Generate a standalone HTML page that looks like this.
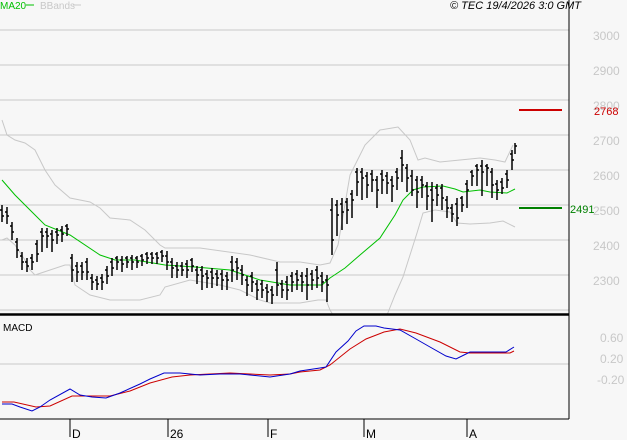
<!DOCTYPE html>
<html><head><meta charset="utf-8"><style>
html,body{margin:0;padding:0;background:#f7f7f7;}
svg{display:block;font-family:"Liberation Sans",sans-serif;}
</style></head><body>
<svg width="627" height="440" viewBox="0 0 627 440">
<rect width="627" height="440" fill="#f7f7f7"/>
<g stroke="#c8c8c8" stroke-width="1">
<path d="M0 30H569M0 65H569M0 100H569M0 135H569M0 170H569M0 205H569M0 240H569M0 275H569M0 310H569M0 364H569"/>
</g>
<g font-size="12" fill="#c8c8c8">
<text x="593" y="40">3000</text><text x="593" y="75">2900</text><text x="593" y="110">2800</text>
<text x="593" y="145">2700</text><text x="593" y="180">2600</text><text x="593" y="215">2500</text>
<text x="593" y="250">2400</text><text x="593" y="285">2300</text>
<text x="600" y="342">0.60</text><text x="600" y="363">0.20</text><text x="597" y="384">-0.20</text>
</g>
<!-- bollinger -->
<polyline fill="none" stroke="#c8c8c8" stroke-width="1" points="2,120 7,135 15,140 25,143 35,150 45,170 55,185 70,198 90,202 100,208 110,218 130,220 145,230 160,245 165,248 200,248 250,255 280,262 300,262 320,265 330,263 338,245 350,175 365,145 380,130 398,127 410,140 418,160 425,158 440,162 460,160 480,158 495,160 505,162 513,145"/>
<polyline fill="none" stroke="#c8c8c8" stroke-width="1" points="2,240 7,238 15,245 25,260 30,270 35,275 50,270 65,265 70,265 75,285 90,295 110,300 140,300 160,295 165,287 190,280 220,285 240,290 260,300 270,303 300,303 318,300 326,300 330,310 333,315"/>
<polyline fill="none" stroke="#c8c8c8" stroke-width="1" points="387,315 395,295 403,277 410,255 417,233 423,213 435,210 450,212 457,223 470,224 490,223 503,221 515,227"/>
<polyline fill="none" stroke="#00c000" stroke-width="1" points="2,180 15,195 30,210 45,225 70,235 100,255 115,260 135,260 165,265 195,267 230,270 260,280 290,285 322,285 330,278 345,268 360,255 380,238 395,215 403,200 413,190 423,187 443,186 455,189 463,192 480,190 490,192 507,193 515,189"/>
<!-- bars -->
<path fill="none" stroke="#000" stroke-width="1.5" d="
M2 205V222M0 210H2M2 216H4 M7 207V224M5 212H7M7 216H9 M12 222V240M10 226H12M12 232H14
M17 238V258M15 242H17M17 250H19 M22 252V270M20 256H22M22 262H24 M27 258V272M25 262H27M27 266H29
M32 254V270M30 258H32M32 262H34 M37 240V262M35 244H37M37 254H39 M42 228V252M40 232H42M42 236H44
M47 228V248M45 232H47M47 236H49 M52 230V252M50 234H52M52 240H54 M57 228V244M55 232H57M57 235H59
M62 226V242M60 230H62M62 234H64 M67 224V236M65 226H67M67 229H69
M72 254V282M70 258H72M72 270H74 M77 262V282M75 266H77M77 272H79 M82 262V280M80 266H82M82 272H84
M87 258V280M85 262H87M87 272H89 M92 274V290M90 278H92M92 282H94 M97 276V290M95 280H97M97 284H99
M102 274V290M100 278H102M102 282H104 M107 266V284M105 270H107M107 276H109 M112 258V276M110 262H112M112 268H114
M117 256V270M115 258H117M117 262H119 M122 256V272M120 260H122M122 264H124 M127 256V268M125 258H127M127 262H129
M132 255V270M130 258H132M132 262H134 M137 256V268M135 258H137M137 262H139 M142 254V266M140 256H142M142 260H144
M147 252V264M145 254H147M147 258H149 M152 252V264M150 254H152M152 258H154 M157 252V264M155 254H157M157 258H159
M162 250V262M160 252H162M162 256H164 M167 251V270M165 256H167M167 262H169
M172 258V278M170 262H172M172 268H174 M177 262V278M175 266H177M177 270H179 M182 262V276M180 266H182M182 270H184
M187 260V278M185 264H187M187 270H189 M192 258V272M190 260H192M192 266H194 M197 266V284M195 270H197M197 275H199
M202 266V290M200 270H202M202 276H204 M207 270V288M205 274H207M207 278H209 M212 268V288M210 272H212M212 278H214
M217 270V286M215 274H217M217 278H219 M222 270V290M220 274H222M222 280H224 M227 272V290M225 276H227M227 280H229
M232 256V282M230 262H232M232 270H234 M237 258V280M235 262H237M237 268H239 M242 265V285M240 270H242M242 275H244
M247 276V296M245 280H247M247 285H249 M252 272V292M250 276H252M252 282H254 M257 280V300M255 284H257M257 290H259
M262 280V298M260 284H262M262 290H264 M267 284V302M265 288H267M267 292H269 M272 286V304M270 290H272M272 295H274
M277 262V296M275 270H277M277 285H279 M282 280V298M280 284H282M282 290H284 M287 276V300M285 282H287M287 290H289
M292 272V292M290 276H292M292 282H294 M297 270V290M295 274H297M297 280H299 M302 272V292M300 276H302M302 282H304
M307 268V300M305 276H307M307 285H309 M312 270V290M310 274H312M312 280H314 M317 266V288M315 270H317M317 278H319
M322 272V292M320 276H322M322 282H324 M327 275V302M325 280H327M327 285H329
M332 198V255M330 210H332M332 240H334 M337 200V236M335 205H337M337 215H339 M342 198V230M340 204H342M342 212H344
M347 198V224M345 202H347M347 210H349 M352 190V218M350 194H352M352 200H354 M357 168V196M355 172H357M357 182H359
M362 168V200M360 172H362M362 178H364 M367 172V198M365 176H367M367 185H369 M372 170V192M370 174H372M372 180H374
M377 176V208M375 180H377M377 190H379 M382 170V194M380 174H382M382 180H384 M387 172V194M385 176H387M387 183H389
M392 176V202M390 180H392M392 186H394 M397 168V190M395 172H397M397 178H399 M402 150V182M400 158H402M402 165H404
M407 164V192M405 168H407M407 178H409 M412 170V196M410 176H412M412 190H414 M417 176V208M415 180H417M417 192H419
M422 176V198M420 180H422M422 185H424 M427 182V210M425 186H427M427 196H429 M432 182V222M430 190H432M432 200H434
M437 184V206M435 188H437M437 195H439 M442 184V210M440 188H442M442 198H444 M447 196V218M445 200H447M447 208H449
M452 204V222M450 208H452M452 214H454 M457 198V226M455 204H457M457 218H459 M462 196V212M460 198H462M462 205H464
M467 180V208M465 184H467M467 190H469 M472 170V186M470 172H472M472 176H474 M477 164V186M475 166H477M477 170H479
M482 160V196M480 166H482M482 172H484 M487 164V186M485 166H487M487 168H489 M492 168V198M490 172H492M492 185H494
M497 180V200M495 184H497M497 190H499 M502 178V194M500 182H502M502 188H504 M507 170V188M505 174H507M507 180H509
M512 150V170M510 154H512M512 160H514 M515 143V154M515 146H517"/>
<!-- markers -->
<path d="M519 110H562" stroke="#cc0000" stroke-width="2"/>
<text x="594" y="115" font-size="11" fill="#cc0000">2768</text>
<path d="M519 208H562" stroke="#008000" stroke-width="2"/>
<text x="570" y="213" font-size="11" fill="#008000">2491</text>
<!-- frame -->
<path d="M569 0V419" stroke="#000" stroke-width="1"/>
<path d="M0 314.5H569" stroke="#000" stroke-width="2.5"/>
<path d="M0 419H569" stroke="#000" stroke-width="1"/>
<!-- legend -->
<text x="0" y="9" font-size="10" fill="#00c000">MA20</text>
<path d="M26 5H34" stroke="#00c000" stroke-width="1"/>
<text x="40" y="9" font-size="10" fill="#c8c8c8">BBands</text>
<path d="M73 5H81" stroke="#c8c8c8" stroke-width="1"/>
<text x="450" y="9" font-size="11" font-style="italic" fill="#000">© TEC 19/4/2026 3:0 GMT</text>
<text x="3" y="331" font-size="10" fill="#000">MACD</text>
<!-- macd -->
<polyline fill="none" stroke="#cc0000" stroke-width="1" points="2,402 14,402 36,407 50,406 72,396 100,396 110,396 130,391 150,383 172,377 190,375 230,373 270,375 290,374 300,372 320,370 330,365 350,349 366,339 384,332 400,329 416,333 440,342 460,352 470,353 510,353 514,351"/>
<polyline fill="none" stroke="#0000cc" stroke-width="1" points="2,404 12,404 20,407 32,411 40,407 50,400 70,389 80,395 92,397 106,398 120,393 140,384 150,379 164,373 180,373 200,375 220,374 240,374 250,375 270,377 290,374 300,371 320,368 326,367 336,352 348,341 356,331 364,326 376,326 384,328 400,330 416,339 430,347 446,356 456,359 464,355 470,352 490,352 506,352 514,347"/>
<!-- x ticks -->
<path d="M70 419V437M168 419V437M268 419V437M364 419V437M467 419V437" stroke="#000" stroke-width="1"/>
<g font-size="12" fill="#000">
<text x="72" y="438">D</text><text x="170" y="438">26</text><text x="270" y="438">F</text><text x="366" y="438">M</text><text x="469" y="438">A</text>
</g>
</svg>
</body></html>
